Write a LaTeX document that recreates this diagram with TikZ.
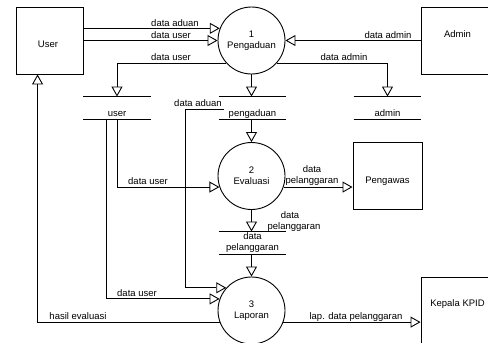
\documentclass[tikz,border=0pt]{standalone}
\usepackage{fontspec}
\setmainfont{Liberation Sans}
\usetikzlibrary{arrows.meta,calc}
\begin{document}
\begin{tikzpicture}[x=1pt,y=-1pt,
  font=\fontsize{9.5}{11}\selectfont,
  line width=0.9pt,
  box/.style={draw, minimum height=67pt, inner sep=0pt},
  proc/.style={draw, circle, minimum size=67pt, inner sep=0pt, align=center},
  store/.style={minimum width=67pt, minimum height=22pt, inner sep=0pt},
  flow/.style={-{Triangle[open,length=10pt,width=11pt]}},
  lbl/.style={inner sep=0pt, anchor=base}
]
\useasboundingbox (0,0) rectangle (488,343);
\clip (0,0) rectangle (488,343);

% external entities
\node[box, minimum width=67pt] (user) at (49.5,40.5) {};
\node[lbl] (usertxt) at (48,47.5) {User};
\node[box, minimum width=73pt] (admin) at (457.5,40.5) {};
\node[lbl] (admintxt) at (457.5,37) {Admin};
\node[box, minimum width=69pt] (pengawas) at (387.5,175.5) {};
\node[lbl] (pengawastxt) at (387.5,183) {Pengawas};
\node[box, minimum width=73pt] (kepala) at (457.5,310.5) {};
\node[lbl] (kepalatxt) at (457.5,306) {Kepala KPID};

% processes
\node[proc] (p1) at (251.5,40.5) {1\\Pengaduan};
\node[proc] (p2) at (251.5,176) {2\\Evaluasi};
\node[proc] (p3) at (251.5,310.5) {3\\Laporan};

% data stores
\node[store] (sUser) at (117,108) {};
\node[store] (sPeng) at (252.5,108) {};
\node[store] (sAdmin) at (387.5,108) {};
\node[store] (sDP) at (252.5,243) {};
\foreach \s in {sUser,sPeng,sAdmin,sDP}{
  \draw (\s.north west) -- (\s.north east) (\s.south west) -- (\s.south east);
}
\node[lbl] (sUsertxt) at (117,116) {user};
\node[lbl] (sPengtxt) at (252.5,116) {pengaduan};
\node[lbl] (sAdmintxt) at (387.5,116) {admin};
\node[align=center, inner sep=0pt] (sDPtxt) at (252.5,242.5) {data\\pelanggaran};

% flows
\draw[flow] (user.east |- p1.159) -- (p1.159);
\node[lbl] (la1) at (175,26) {data aduan};
\draw[flow] (user.east |- p1.west) -- (p1.west);
\node[lbl] (la2) at (171,38) {data user};
\draw[flow] (admin.west |- p1.east) -- (p1.east);
\node[lbl] (la3) at (388,38) {data admin};

\draw[flow] (p1.222) -| (sUser.north);
\node[lbl] (la4) at (171,60) {data user};
\draw[flow] (p1.-42) -| (sAdmin.north);
\node[lbl] (la5) at (344,60) {data admin};

\draw[flow] (p1.south) -- (p1.south |- sPeng.north);
\draw[flow] (sPeng.south -| p2.north) -- (p2.north);
\draw[flow] (p2.south) -- (p2.south |- sDP.north);
\draw[flow] (sDP.south -| p3.north) -- (p3.north);
\node[align=center, inner sep=0pt, anchor=north] (la6) at (290,211) {data\\\hspace*{8pt}pelanggaran};

\coordinate (daStart) at ($(sPeng.west)+(5,1)$);
\coordinate (daBend) at (185,109);
\draw[flow] (daStart) -- (daBend) |- (p3.138);
\node[lbl] (la7) at (198,106) {data aduan};

\draw[flow] (sUser.south) |- (p2.199);
\node[lbl] (la8) at (148,184) {data user};
\draw[flow] ($(sUser.south)+(-11,0)$) |- (p3.160);
\node[lbl] (la9) at (137,296) {data user};

\draw[flow] (p2.-19) -- (p2.-19 -| pengawas.west);
\node[align=center, inner sep=0pt, anchor=south] (la10) at (312,186) {data\\pelanggaran};

\draw[flow] (p3.200) -| ($(user.south west)+(22,0)$);
\node[lbl] (la11) at (78,319) {hasil evaluasi};
\draw[flow] (p3.-20) -- (p3.-20 -| kepala.west);
\node[lbl] (la12) at (356,319) {lap. data pelanggaran};
\end{tikzpicture}
\end{document}
